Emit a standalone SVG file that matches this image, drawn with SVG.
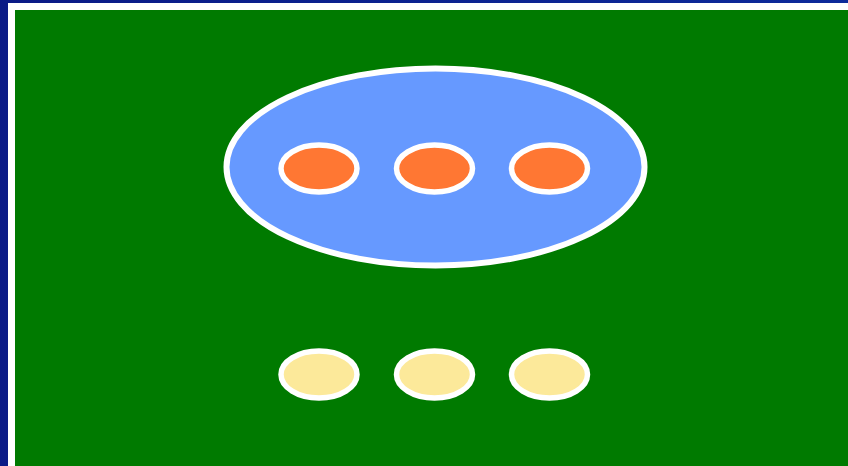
<svg xmlns="http://www.w3.org/2000/svg" width="848" height="466" viewBox="0 0 848 466">
<defs>
<linearGradient id="bg" x1="0" y1="0" x2="1" y2="0">
<stop offset="0" stop-color="#0a1a86"/>
<stop offset="1" stop-color="#0d2a9a"/>
</linearGradient>
<style>
.sm{stroke:#ffffff;stroke-width:5.5}
.top{fill:#ff7733}
.bot{fill:#fce99a}
</style>
</defs>
<rect x="0" y="0" width="848" height="466" fill="url(#bg)"/>
<rect x="8" y="3" width="840" height="463" fill="#ffffff"/>
<rect x="15" y="10" width="833" height="456" fill="#007a00"/>
<g id="big">
<ellipse cx="435.5" cy="167" rx="209" ry="98.5" fill="#6699ff" stroke="#ffffff" stroke-width="6"/>
</g>
<g id="t1"><ellipse class="sm top" cx="319" cy="168.5" rx="38" ry="23.5"/></g>
<g id="t2"><ellipse class="sm top" cx="434.5" cy="168.5" rx="38" ry="23.5"/></g>
<g id="t3"><ellipse class="sm top" cx="549.5" cy="168.5" rx="38" ry="23.5"/></g>
<g id="b1"><ellipse class="sm bot" cx="319" cy="374.5" rx="38" ry="23.5"/></g>
<g id="b2"><ellipse class="sm bot" cx="434.5" cy="374.5" rx="38" ry="23.5"/></g>
<g id="b3"><ellipse class="sm bot" cx="549.5" cy="374.5" rx="38" ry="23.5"/></g>
<g id="connectors"/>
</svg>
